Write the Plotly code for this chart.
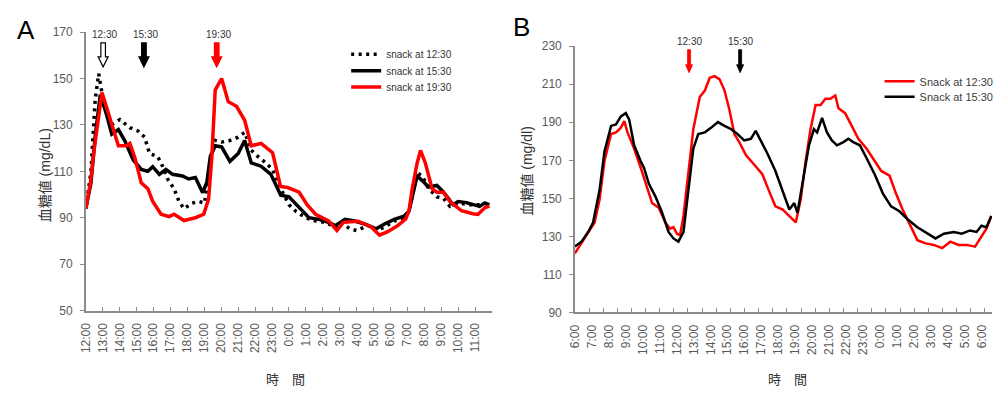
import plotly.graph_objects as go

# ---------------- Panel A (hours after 12:00) ----------------
a_tick_labels = ["12:00", "13:00", "14:00", "15:00", "16:00", "17:00", "18:00", "19:00",
                 "20:00", "21:00", "22:00", "23:00", "0:00", "1:00", "2:00", "3:00",
                 "4:00", "5:00", "6:00", "7:00", "8:00", "9:00", "10:00", "11:00"]

a1230_t = [0, 0.3, 0.55, 0.76, 0.9, 1.1, 1.53, 2.01, 2.6, 3.08, 3.47, 3.76, 4.24, 4.53, 4.83,
           5.21, 5.5, 5.8, 6.28, 6.67, 7.01, 7.25, 7.44, 7.64, 8.02, 8.51, 9.0, 9.38, 9.77,
           10.16, 10.64, 11.03, 11.51, 12.0, 12.4, 12.98, 13.57, 14.15, 14.73, 15.1, 15.6,
           15.99, 16.67, 17.15, 17.64, 18.22, 18.8, 19.09, 19.38, 19.57, 19.87, 20.25, 20.74,
           21.12, 21.51, 22.09, 22.67, 23.26, 23.74]
a1230_v = [94, 110, 141, 152, 146, 137, 130.2, 132.3, 128.8, 127.4, 124.7, 117.7, 116.4, 112.2,
           106.7, 102.5, 97, 93.9, 96.3, 97, 96.3, 108, 118.4, 123.3, 122.6, 123.3, 124.7, 126.8,
           119.1, 116.4, 113.6, 110.8, 102.5, 95.6, 92.8, 90, 88.6, 88, 85.9, 88, 85.2, 84.5,
           86.6, 84.5, 85.9, 88.6, 90, 92.8, 103.9, 109.4, 108, 102.5, 99, 98.4, 94.9, 96.3,
           95.6, 95.6, 96.3]

a1530_t = [0, 0.3, 0.55, 0.85, 1.2, 1.53, 1.92, 2.31, 2.79, 3.27, 3.66, 3.95, 4.34, 4.73, 5.12,
           5.7, 6.08, 6.47, 6.9, 7.15, 7.35, 7.64, 8.02, 8.51, 9.0, 9.38, 9.77, 10.35, 10.93,
           11.51, 12.0, 12.6, 13.18, 13.76, 14.34, 14.73, 15.31, 15.89, 16.47, 17.15, 17.64,
           18.22, 18.8, 19.09, 19.38, 19.57, 19.87, 20.25, 20.74, 21.12, 21.7, 21.99, 22.48,
           22.97, 23.26, 23.55, 23.84]
a1530_v = [94, 105, 125, 143, 135, 126, 128, 123, 115, 110.8, 110, 112, 108.7, 110.8, 108.7,
           108, 106.7, 107.3, 100.8, 105.3, 116.4, 121, 120.5, 114.3, 117.7, 123.3, 113.6, 112.2,
           108.7, 99.7, 99, 94.2, 90, 89.3, 88, 86.6, 89.3, 88.6, 87.3, 85.2, 87.3, 89.3, 90.7,
           92.8, 102.5, 108, 106, 103.2, 103.9, 101.1, 95.6, 97, 96.5, 95.6, 94.9, 96.3, 95.6]

a1930_t = [0, 0.27, 0.5, 0.75, 0.95, 1.25, 1.53, 1.92, 2.4, 2.6, 2.89, 3.27, 3.66, 3.95, 4.44,
           4.92, 5.21, 5.8, 6.47, 6.96, 7.25, 7.44, 7.64, 8.02, 8.41, 8.9, 9.38, 9.77, 10.35,
           11.03, 11.5, 11.92, 12.6, 13.08, 13.57, 13.95, 14.34, 14.83, 15.21, 16.08, 16.86,
           17.35, 17.83, 18.41, 18.9, 19.09, 19.28, 19.57, 19.77, 20.06, 20.45, 20.74, 21.12,
           21.51, 22.19, 22.87, 23.16, 23.55, 23.84]
a1930_v = [94, 105, 120, 134, 144, 137, 130, 121, 121, 122, 116, 105, 102.5, 97, 91.5, 90.5,
           91.5, 88.8, 90, 91.5, 98, 116, 145, 150, 140, 138, 132, 121, 122, 118, 103.5, 103,
           101, 95.5, 91.5, 90, 88.6, 84.5, 88, 88.5, 86, 82.5, 84, 86.5, 89.5, 93, 102.5,
           113.5, 119, 113.5, 102.5, 101, 101, 97, 93, 91.7, 91.4, 94.2, 95]

a_arrow_labels = ["12:30", "15:30", "19:30"]
a_arrow_t = [1.02, 3.43, 7.73]

# ---------------- Panel B (hours after 6:00) ----------------
b_tick_labels = ["6:00", "7:00", "8:00", "9:00", "10:00", "11:00", "12:00", "13:00", "14:00",
                 "15:00", "16:00", "17:00", "18:00", "19:00", "20:00", "21:00", "22:00",
                 "23:00", "0:00", "1:00", "2:00", "3:00", "4:00", "5:00", "6:00"]

b1230_t = [0, 0.39, 0.78, 1.16, 1.45, 1.74, 2.13, 2.42, 2.71, 2.91, 3.1, 3.49, 3.88, 4.17, 4.55,
           4.94, 5.33, 5.62, 5.81, 6.01, 6.2, 6.4, 6.69, 6.98, 7.36, 7.66, 7.95, 8.24, 8.53,
           8.82, 9.11, 9.4, 9.69, 10.08, 10.56, 11.05, 11.43, 11.82, 12.25, 12.64, 13.02,
           13.31, 13.6, 13.89, 14.19, 14.48, 14.77, 15.06, 15.35, 15.54, 15.93, 16.32, 16.71,
           17.19, 17.67, 18.06, 18.55, 18.93, 19.32, 19.71, 20.19, 20.68, 21.16, 21.65, 22.13,
           22.62, 23.1, 23.59, 23.88, 24.26, 24.55]
b1230_v = [121, 126.3, 132.3, 137.3, 149.2, 169.5, 183.8, 184.7, 187.2, 190.6, 184.7, 176.2,
           166.1, 157.6, 147.5, 145, 137.3, 134, 134.8, 131.4, 130.6, 140.7, 164.4, 186.4,
           203.3, 206.7, 213.4, 214.3, 212.6, 206.7, 196.5, 183.8, 179.6, 172.8, 167.8, 162.7,
           154.2, 145.8, 144.1, 140.7, 137.3, 149.2, 169.5, 186.4, 199.1, 199.1, 202.4, 202.4,
           204.1, 197.4, 194.8, 188.1, 181.3, 176.2, 169.5, 164.4, 161.9, 152.5, 144.1, 136.5,
           128.0, 126.3, 125.5, 123.8, 127.2, 125.5, 125.5, 124.6, 128.9, 134, 140.7]

b1530_t = [0, 0.39, 0.78, 1.07, 1.45, 1.74, 2.13, 2.42, 2.71, 3.0, 3.2, 3.49, 3.88, 4.07, 4.36,
           4.75, 5.14, 5.52, 5.81, 6.1, 6.4, 6.69, 6.98, 7.27, 7.66, 8.04, 8.43, 8.82, 9.21,
           9.59, 9.98, 10.37, 10.66, 10.95, 11.34, 11.82, 12.25, 12.64, 12.93, 13.12, 13.41,
           13.8, 14.09, 14.28, 14.57, 14.86, 15.15, 15.45, 15.83, 16.12, 16.41, 16.8, 17.19,
           17.67, 18.16, 18.64, 19.13, 19.61, 20.19, 20.78, 21.26, 21.75, 22.33, 22.81, 23.29,
           23.68, 23.97, 24.26, 24.55]
b1530_v = [124.6, 127.2, 132.3, 137.3, 154.2, 174.5, 188.1, 188.9, 193.1, 194.8, 191.4, 177.9,
           169.5, 166.1, 157.6, 150.9, 142.4, 132.3, 128.9, 127.2, 132.3, 155.9, 176.2, 183.8,
           184.7, 187.2, 190.1, 188.1, 186.4, 183.8, 180.5, 181.3, 185.5, 180.5, 173.7, 164.4,
           154.2, 144.1, 147.5, 142.4, 157.6, 177.9, 186.4, 184.7, 192.3, 184.7, 180.5, 177.9,
           179.6, 181.3, 179.6, 177.9, 171.2, 162.7, 152.5, 145.8, 143.2, 139.0, 134.8, 131.4,
           128.9, 131.4, 132.3, 131.4, 133.1, 132.3, 135.6, 134.8, 140.7]

b_arrow_labels = ["12:30", "15:30"]
b_arrow_t = [6.73, 9.74]

# ---------------- Figure ----------------
W, H = 999, 395
AXC = "#8c8c8c"
TXC = "#595959"
FONT = "Liberation Sans, Arial, Noto Sans CJK JP"

fig = go.Figure()
fig.add_trace(go.Scatter(x=a1230_t, y=a1230_v, mode="lines", name="snack at 12:30",
                         line=dict(color="black", width=3.5, dash="3px,4.5px"),
                         xaxis="x", yaxis="y", legend="legend"))
fig.add_trace(go.Scatter(x=a1530_t, y=a1530_v, mode="lines", name="snack at 15:30",
                         line=dict(color="black", width=3.5), xaxis="x", yaxis="y", legend="legend2"))
fig.add_trace(go.Scatter(x=a1930_t, y=a1930_v, mode="lines", name="snack at 19:30",
                         line=dict(color="#ff0000", width=3.5), xaxis="x", yaxis="y", legend="legend3"))

fig.add_trace(go.Scatter(x=b1230_t, y=b1230_v, mode="lines", name="Snack at 12:30",
                         line=dict(color="#ff0000", width=2.5), xaxis="x2", yaxis="y2", legend="legend4"))
fig.add_trace(go.Scatter(x=b1530_t, y=b1530_v, mode="lines", name="Snack at 15:30",
                         line=dict(color="black", width=2.5), xaxis="x2", yaxis="y2", legend="legend5"))
fig.add_trace(go.Scatter(x=[None], y=[None], xaxis="x3", yaxis="y2", showlegend=False,
                         hoverinfo="skip"))

common_y = dict(showgrid=False, zeroline=False, showline=True, linecolor=AXC, linewidth=1.5,
                ticks="outside", ticklen=4, tickcolor=AXC, tickwidth=1.2,
                tickfont=dict(size=12, color=TXC, family=FONT), ticklabelstandoff=5)
common_x = dict(showgrid=False, zeroline=False, showline=True, linecolor=AXC, linewidth=1.5,
                tickmode="array", tickangle=-90, tickcolor=AXC, tickwidth=1.2,
                tickfont=dict(size=12, color=TXC, family=FONT), ticklabelstandoff=6)


def leg(x_px, top_px, size, color):
    return dict(x=x_px / W, y=(H - top_px) / H, xanchor="left", yanchor="top",
                font=dict(size=size, color=color, family=FONT), bgcolor="rgba(0,0,0,0)",
                itemwidth=30, tracegroupgap=0)


fig.update_layout(
    width=W, height=H, margin=dict(l=0, r=0, t=0, b=0),
    paper_bgcolor="white", plot_bgcolor="white",
    font=dict(family=FONT, color=TXC),
    xaxis=dict(domain=[80 / W, 492 / W], range=[0, 24], anchor="y",
               tickvals=list(range(25)), ticktext=a_tick_labels + [""],
               ticks="inside", ticklen=4, **common_x),
    yaxis=dict(domain=[(H - 314.7) / H, (H - 26) / H], range=[50, 170], tick0=50, dtick=20,
               anchor="x", **common_y),
    xaxis2=dict(domain=[576 / W, 1.0], range=[0, 24.59], anchor="y2",
                tickvals=list(range(25)), ticktext=b_tick_labels, ticks="", **common_x),
    xaxis3=dict(domain=[576 / W, 1.0], range=[0, 24.59], anchor="y2", overlaying="x2",
                tickmode="linear", tick0=0, dtick=5 / 6, ticks="inside", ticklen=4,
                tickcolor=AXC, tickwidth=1.2, showticklabels=False, showline=False,
                showgrid=False, zeroline=False),
    yaxis2=dict(domain=[(H - 316.6) / H, (H - 40.7) / H], range=[90, 230], tick0=90, dtick=20,
                anchor="x2", **common_y),
    legend=leg(344, 34, 10, "#333333"),
    legend2=leg(344, 51, 10, "#333333"),
    legend3=leg(344, 68, 10, "#333333"),
    legend4=leg(885, 62, 11, "#404040"),
    legend5=leg(885, 78, 11, "#404040"),
    showlegend=True,
)

ann = []
ann.append(dict(text="A", x=19 / W, y=(H - 24) / H, xref="paper", yref="paper", showarrow=False,
                font=dict(size=26, color="black", family=FONT), xanchor="center", yanchor="middle"))
ann.append(dict(text="B", x=522 / W, y=(H - 21) / H, xref="paper", yref="paper", showarrow=False,
                font=dict(size=26, color="black", family=FONT), xanchor="center", yanchor="middle"))
ann.append(dict(text="血糖値 (mg/dL)", x=38 / W, y=(H - 174) / H, xref="paper", yref="paper",
                showarrow=False, textangle=-90, font=dict(size=14, color="#333333", family=FONT),
                xanchor="center", yanchor="middle"))
ann.append(dict(text="血糖値 (mg/dl)", x=527 / W, y=(H - 170) / H, xref="paper", yref="paper",
                showarrow=False, textangle=-90, font=dict(size=14, color="#333333", family=FONT),
                xanchor="center", yanchor="middle"))
ann.append(dict(text="時　間", x=282 / W, y=(H - 386) / H, xref="paper", yref="paper",
                showarrow=False, font=dict(size=13, color="#333333", family=FONT),
                xanchor="center", yanchor="middle"))
ann.append(dict(text="時　間", x=792 / W, y=(H - 386) / H, xref="paper", yref="paper",
                showarrow=False, font=dict(size=13, color="#333333", family=FONT),
                xanchor="center", yanchor="middle"))

shapes = []
a_arrow_fill = ["white", "black", "#ff0000"]
a_arrow_line = ["black", "black", "#ff0000"]
for lab, t, fc, lc in zip(a_arrow_labels, a_arrow_t, a_arrow_fill, a_arrow_line):
    ann.append(dict(text=lab, x=t + 0.1, y=(H - 29) / H, xref="x", yref="paper", showarrow=False,
                    font=dict(size=10, color="#333333", family=FONT),
                    xanchor="center", yanchor="middle"))
    shapes.append(dict(type="path", xref="x", yref="y", xsizemode="pixel", ysizemode="pixel",
                       xanchor=t, yanchor=155.0,
                       path="M0,0 L-5,10 L-2.3,10 L-2.3,24 L2.3,24 L2.3,10 L5,10 Z",
                       fillcolor=fc, line=dict(color=lc, width=1.2), layer="above"))

b_arrow_col = ["#ff0000", "black"]
for lab, t, c in zip(b_arrow_labels, b_arrow_t, b_arrow_col):
    ann.append(dict(text=lab, x=t, y=(H - 36) / H, xref="x2", yref="paper", showarrow=False,
                    font=dict(size=10, color="#333333", family=FONT),
                    xanchor="center", yanchor="middle"))
    shapes.append(dict(type="path", xref="x2", yref="y2", xsizemode="pixel", ysizemode="pixel",
                       xanchor=t, yanchor=216.1,
                       path="M0,0 L-3.5,8 L-1.5,8 L-1.5,23 L1.5,23 L1.5,8 L3.5,8 Z",
                       fillcolor=c, line=dict(color=c, width=0.8), layer="above"))

fig.update_layout(annotations=ann, shapes=shapes)
fig.write_html("out.html")
